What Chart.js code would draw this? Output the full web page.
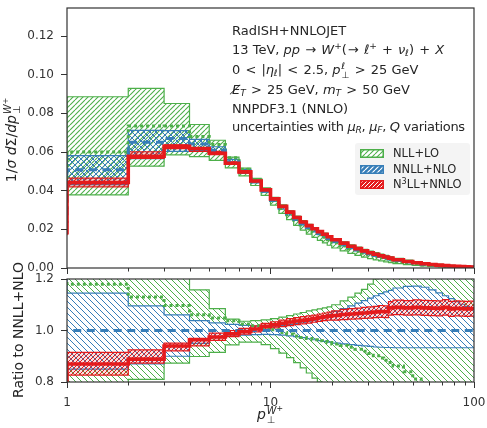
<!DOCTYPE html>
<html><head><meta charset="utf-8">
<script src="https://cdn.jsdelivr.net/npm/chart.js@4/dist/chart.umd.min.js"></script>
<style>
html,body{margin:0;padding:0;background:#fff;}
body{width:487px;height:428px;position:relative;overflow:hidden;font-family:'DejaVu Sans',sans-serif;color:#262626;}
canvas{position:absolute;left:0;}
.t{position:absolute;white-space:nowrap;line-height:16px;}
.ann{left:232px;font-size:13px;}
.op{margin:0 1px;}
sup,sub{font-size:0.7em;line-height:0;position:relative;vertical-align:baseline;}
sup{top:-0.5em;} sub{top:0.25em;}
.ss{display:inline-block;vertical-align:-0.45em;font-size:0.7em;line-height:0.95em;text-align:left;margin-left:1px;}
.ss>span{display:block;}
.ss sup{font-size:0.8em;top:-0.35em;}
#leg{position:absolute;left:355px;top:143px;width:115px;height:52px;background:rgba(242,242,242,0.85);border-radius:3px;}
#leg canvas{position:absolute;left:5px;}
#leg .lt{position:absolute;left:38px;font-size:11.5px;line-height:14px;white-space:nowrap;}
</style></head><body>
<canvas id="cTop" width="487" height="276" style="top:0;width:487px;height:276px"></canvas>
<canvas id="cBot" width="487" height="158" style="top:270px;width:487px;height:158px"></canvas>

<div class="t ann" style="top:22.5px">RadISH+NNLOJET</div>
<div class="t ann" style="top:42px">13 TeV, <i>pp</i> <span class="op">→</span> <i>W</i><sup>+</sup>(<span class="op">→</span> <i>ℓ</i><sup>+</sup> <span class="op">+</span> <i>ν<sub>ℓ</sub></i>) <span class="op">+</span> <i>X</i></div>
<div class="t ann" style="top:62px">0 <span class="op">&lt;</span> |<i>η<sub>ℓ</sub></i>| <span class="op">&lt;</span> 2.5, <i>p</i><span class="ss"><span><i>ℓ</i></span><span>⊥</span></span> <span class="op">&gt;</span> 25 GeV</div>
<div class="t ann" style="top:82px"><i>E̸</i><sub><i>T</i></sub> <span class="op">&gt;</span> 25 GeV, <i>m<sub>T</sub></i> <span class="op">&gt;</span> 50 GeV</div>
<div class="t ann" style="top:100.5px">NNPDF3.1 (NNLO)</div>
<div class="t ann" style="top:118.5px;letter-spacing:-0.3px">uncertainties with <i>μ<sub>R</sub></i>, <i>μ<sub>F</sub></i>, <i>Q</i> variations</div>

<div id="leg">
  <canvas id="lp0" width="24" height="9" style="top:6px"></canvas><div class="lt" style="top:3px">NLL+LO</div>
  <canvas id="lp1" width="24" height="9" style="top:21.5px"></canvas><div class="lt" style="top:19px">NNLL+NLO</div>
  <canvas id="lp2" width="24" height="9" style="top:37px"></canvas><div class="lt" style="top:34px">N<sup>3</sup>LL+NNLO</div>
</div>

<div class="t" style="left:12px;top:140px;font-size:14px;transform:translate(-50%,-50%) rotate(-90deg);">1/<i>σ</i> <i>d</i>Σ/<i>dp</i><span class="ss"><span><i>W</i><sup>+</sup></span><span>⊥</span></span></div>
<div class="t" style="left:18px;top:330px;font-size:14px;transform:translate(-50%,-50%) rotate(-90deg);">Ratio to NNLL+NLO</div>
<div class="t" style="left:270px;top:415px;font-size:14px;transform:translate(-50%,-50%);"><i>p</i><span class="ss"><span><i>W</i><sup>+</sup></span><span>⊥</span></span></div>

<script>
// ---- data ----
const binEdges = [0.5,1,2,3,4,5,6,7,8,9,10,11,12,13,14,15,16,17,18,19,20,22,24,26,28,30,32,34,36,38,40,45,50,55,60,65,70,75,80,85,90,95,100];
// NNLL+NLO central value, absolute 1/sigma dSigma/dpT per bin
const nnllNlo = [0.0240,0.0508,0.0650,0.0670,0.0641,0.0609,0.0549,0.0499,0.0447,0.0398,0.0350,0.0310,0.0280,0.0252,0.0229,0.0210,0.0194,0.0179,0.0166,0.0153,0.0138,0.0121,0.0106,0.0094,0.0083,0.0074,0.0066,0.0059,0.0053,0.0047,0.0039,0.0031,0.0025,0.0020,0.00165,0.00137,0.00112,0.00093,0.00078,0.00066,0.00056,0.00048];
// ratios to NNLL+NLO
const nnllLoRatio = [0.80,0.850,0.870,0.900,0.950,0.972,0.978,0.982,0.984,0.985,0.984,0.982,0.979,0.976,0.972,0.968,0.964,0.961,0.958,0.955,0.951,0.948,0.945,0.942,0.940,0.938,0.936,0.935,0.934,0.934,0.933,0.933,0.933,0.933,0.933,0.933,0.933,0.933,0.933,0.933,0.933,0.933];
const nnllHiRatio = [1.20,1.145,1.096,1.061,1.038,1.030,1.024,1.020,1.017,1.016,1.017,1.020,1.024,1.028,1.032,1.036,1.040,1.048,1.055,1.063,1.074,1.085,1.096,1.106,1.116,1.126,1.135,1.143,1.150,1.156,1.165,1.171,1.172,1.168,1.158,1.146,1.135,1.124,1.112,1.102,1.094,1.088];
const n3llRatio   = [0.76,0.870,0.889,0.940,0.964,0.975,0.987,0.996,1.006,1.016,1.022,1.028,1.033,1.037,1.040,1.043,1.046,1.050,1.053,1.056,1.058,1.062,1.064,1.066,1.068,1.070,1.072,1.074,1.073,1.088,1.090,1.088,1.090,1.088,1.087,1.086,1.090,1.084,1.086,1.085,1.084,1.085];
const n3llLoRatio = [0.72,0.827,0.873,0.921,0.940,0.962,0.976,0.986,0.995,1.005,1.010,1.015,1.019,1.023,1.026,1.029,1.032,1.035,1.038,1.040,1.040,1.042,1.044,1.045,1.047,1.048,1.050,1.051,1.050,1.060,1.062,1.060,1.061,1.059,1.058,1.057,1.060,1.055,1.057,1.056,1.055,1.056];
const n3llHiRatio = [0.80,0.915,0.925,0.951,0.970,0.990,1.000,1.008,1.018,1.028,1.034,1.040,1.046,1.050,1.054,1.057,1.060,1.064,1.068,1.071,1.076,1.082,1.085,1.087,1.090,1.092,1.094,1.097,1.096,1.112,1.118,1.116,1.119,1.117,1.116,1.115,1.120,1.113,1.115,1.114,1.113,1.114];
const nllRatio    = [1.30,1.180,1.130,1.097,1.061,1.049,1.038,1.025,1.018,1.012,1.003,0.992,0.986,0.979,0.973,0.969,0.964,0.960,0.957,0.953,0.948,0.942,0.935,0.927,0.919,0.911,0.902,0.893,0.884,0.876,0.862,0.840,0.812,0.785,0.760,0.735,0.710,0.690,0.670,0.650,0.630,0.610];
const nllLoRatio  = [0.90,0.744,0.810,0.873,0.899,0.915,0.944,0.955,0.955,0.945,0.930,0.912,0.895,0.875,0.855,0.835,0.815,0.800,0.785,0.770,0.750,0.730,0.710,0.690,0.672,0.655,0.638,0.622,0.607,0.593,0.575,0.555,0.535,0.515,0.500,0.485,0.470,0.458,0.446,0.435,0.425,0.415];
const nllHiRatio  = [1.80,1.744,1.430,1.270,1.158,1.085,1.044,1.036,1.038,1.041,1.046,1.052,1.058,1.064,1.070,1.076,1.080,1.084,1.088,1.092,1.100,1.115,1.130,1.145,1.160,1.180,1.200,1.220,1.240,1.260,1.290,1.320,1.350,1.375,1.400,1.420,1.440,1.460,1.480,1.500,1.515,1.530];
// axes
const xTickValues = [1,2,3,4,5,6,7,8,9,10,20,30,40,50,60,70,80,90,100];
const xMajorTicks = [1,10,100];
const yTopRange = [0, 0.1345];
const yRatioRange = [0.8, 1.2];
const labels = ['NLL+LO','NNLL+NLO','N3LL+NNLO'];

// ---- style ----
const GREEN = '#4daf4a', BLUE = '#377eb8', RED = '#e41a1c', INK = '#333333';
Chart.defaults.font.family = "'DejaVu Sans', sans-serif";
Chart.defaults.color = INK;

function hatch(color, size, kinds, lw, bg) {
  const c = document.createElement('canvas'); c.width = size; c.height = size;
  const g = c.getContext('2d');
  if (bg) { g.fillStyle = bg; g.fillRect(0, 0, size, size); }
  g.strokeStyle = color; g.lineWidth = lw;
  g.beginPath();
  for (const k of kinds) {
    for (const o of [-size, 0, size]) {
      if (k === '/') { g.moveTo(o, size); g.lineTo(o + size, 0); }
      if (k === '\\') { g.moveTo(o, 0); g.lineTo(o + size, size); }
    }
  }
  g.stroke();
  return g.createPattern(c, 'repeat');
}
const patTop = {
  green: hatch(GREEN, 5, ['/'], 1.1),
  blue: hatch(BLUE, 6, ['/', '\\'], 1.0),
  red: hatch(RED, 5, ['/'], 1.1, 'rgba(228,26,28,0.22)')
};
const patBot = {
  green: hatch(GREEN, 6, ['\\'], 1.0),
  blue: hatch(BLUE, 6, ['\\'], 1.0),
  red: hatch(RED, 4, ['/'], 1.0, 'rgba(228,26,28,0.15)')
};

function stepData(vals) {
  const pts = vals.map((v, i) => ({x: binEdges[i], y: v}));
  pts.push({x: binEdges[binEdges.length - 1], y: vals[vals.length - 1]});
  return pts;
}
const absOf = r => r.map((v, i) => v * nnllNlo[i]);

function datasets(v, pats) {
  const base = {stepped: 'before', pointRadius: 0, pointHoverRadius: 0, tension: 0};
  return [
    {...base, label: labels[0] + ' lo', data: stepData(v.nllLo), borderColor: GREEN, borderWidth: 1.2, fill: false, order: 60},
    {...base, label: labels[0] + ' hi', data: stepData(v.nllHi), borderColor: GREEN, borderWidth: 1.2, fill: '-1', backgroundColor: pats.green, order: 59},
    {...base, label: labels[1] + ' lo', data: stepData(v.nnllLo), borderColor: BLUE, borderWidth: 1.2, fill: false, order: 50},
    {...base, label: labels[1] + ' hi', data: stepData(v.nnllHi), borderColor: BLUE, borderWidth: 1.2, fill: '-1', backgroundColor: pats.blue, order: 49},
    {...base, label: labels[2] + ' lo', data: stepData(v.n3Lo), borderColor: RED, borderWidth: 1.2, fill: false, order: 40},
    {...base, label: labels[2] + ' hi', data: stepData(v.n3Hi), borderColor: RED, borderWidth: 1.2, fill: '-1', backgroundColor: pats.red, order: 39},
    {...base, label: labels[0], data: stepData(v.nllC), borderColor: GREEN, borderWidth: 3, borderDash: [3, 3], fill: false, order: 30},
    {...base, label: labels[1], data: stepData(v.nnllC), borderColor: BLUE, borderWidth: 3, borderDash: [8, 5.5], fill: false, order: 20},
    {...base, label: labels[2], data: stepData(v.n3C), borderColor: RED, borderWidth: 3.6, fill: false, order: 10}
  ];
}

const framePlugin = {
  id: 'frame',
  afterDraw(chart) {
    const {ctx, chartArea: a} = chart;
    const sx = chart.scales.x;
    ctx.save();
    ctx.strokeStyle = INK; ctx.lineWidth = 1;
    ctx.beginPath();
    for (const v of xTickValues) {
      if (xMajorTicks.includes(v)) continue;
      const px = Math.round(sx.getPixelForValue(v)) + 0.5;
      ctx.moveTo(px, a.bottom); ctx.lineTo(px, a.bottom + 3.5);
    }
    ctx.stroke();
    ctx.lineWidth = 1.2;
    ctx.strokeRect(a.left, a.top, a.right - a.left, a.bottom - a.top);
    ctx.restore();
  }
};

function xScale(showLabels, h) {
  return {
    type: 'logarithmic', min: 1, max: 100,
    afterBuildTicks: s => { s.ticks = xTickValues.map(v => ({value: v, major: xMajorTicks.includes(v)})); },
    ticks: {display: showLabels, autoSkip: false, maxRotation: 0, minRotation: 0, padding: 8,
      font: {size: 12}, color: INK,
      callback: v => xMajorTicks.includes(v) ? String(v) : ''},
    grid: {display: true, drawOnChartArea: false, drawTicks: true, tickLength: 6, tickWidth: 1,
      tickColor: c => (c.tick && c.tick.major) ? INK : 'rgba(0,0,0,0)'},
    border: {display: false},
    afterFit: s => { s.height = h; s.paddingLeft = 0; s.paddingRight = 0; s.paddingTop = 0; s.paddingBottom = 0; }
  };
}
function yScale(range, step, dec) {
  return {
    type: 'linear', min: range[0], max: range[1],
    ticks: {stepSize: step, includeBounds: false, padding: 7, font: {size: 12}, color: INK,
      callback: v => Number(v).toFixed(dec)},
    grid: {display: true, drawOnChartArea: false, drawTicks: true, tickLength: 6, tickColor: INK, tickWidth: 1},
    border: {display: false},
    afterFit: s => { s.width = 67; s.paddingTop = 0; s.paddingBottom = 0; s.paddingLeft = 0; s.paddingRight = 0; }
  };
}
const commonOpts = {responsive: false, animation: false, devicePixelRatio: 1,
  plugins: {legend: {display: false}, tooltip: {enabled: false}}, events: []};

new Chart(document.getElementById('cTop'), {
  type: 'line',
  data: {datasets: datasets({
    nllLo: absOf(nllLoRatio), nllHi: absOf(nllHiRatio), nllC: absOf(nllRatio),
    nnllLo: absOf(nnllLoRatio), nnllHi: absOf(nnllHiRatio), nnllC: nnllNlo,
    n3Lo: absOf(n3llLoRatio), n3Hi: absOf(n3llHiRatio), n3C: absOf(n3llRatio)
  }, patTop)},
  options: {...commonOpts, layout: {padding: {left: 0, right: 13, top: 8, bottom: 0}},
    scales: {x: xScale(false, 8), y: yScale(yTopRange, 0.02, 2)}},
  plugins: [framePlugin]
});

new Chart(document.getElementById('cBot'), {
  type: 'line',
  data: {datasets: datasets({
    nllLo: nllLoRatio, nllHi: nllHiRatio, nllC: nllRatio,
    nnllLo: nnllLoRatio, nnllHi: nnllHiRatio, nnllC: nnllNlo.map(v => v / v),
    n3Lo: n3llLoRatio, n3Hi: n3llHiRatio, n3C: n3llRatio
  }, patBot)},
  options: {...commonOpts, layout: {padding: {left: 0, right: 13, top: 9, bottom: 0}},
    scales: {x: xScale(true, 46), y: yScale(yRatioRange, 0.2, 1)}},
  plugins: [framePlugin]
});

// legend patches
const legPats = [hatch(GREEN, 5, ['/'], 1.1, '#ffffff'), hatch('#ffffff', 5, ['/'], 1.2, BLUE), hatch('#ffffff', 4, ['/'], 1.0, RED)];
const legCols = [GREEN, BLUE, RED];
legPats.forEach((p, i) => {
  const c = document.getElementById('lp' + i), g = c.getContext('2d');
  g.fillStyle = p; g.fillRect(0, 0, 24, 9);
  g.strokeStyle = legCols[i]; g.lineWidth = 1.5; g.strokeRect(0.75, 0.75, 22.5, 7.5);
});
</script>
</body></html>
